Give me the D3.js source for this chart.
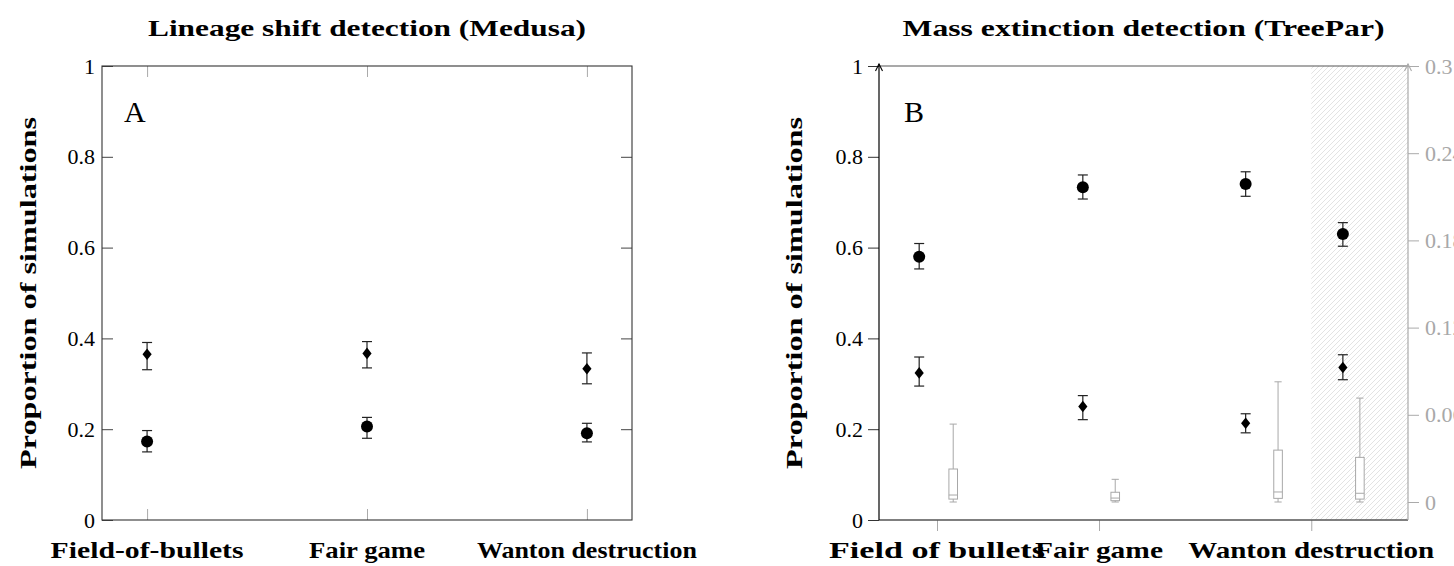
<!DOCTYPE html>
<html><head><meta charset="utf-8">
<script src="https://cdn.jsdelivr.net/npm/d3@7"></script>
<style>
body{margin:0;background:#fff}
svg{display:block}
text{font-family:"Liberation Serif","Times New Roman",serif}
</style>
</head><body>
<svg id="c" width="1454" height="566"></svg>
<script>
// ---------- DATA ----------
const titleA = "Lineage shift detection (Medusa)";
const titleB = "Mass extinction detection (TreePar)";
const yLabel = "Proportion of simulations";
const catsA = ["Field-of-bullets", "Fair game", "Wanton destruction"];
const catsB = ["Field of bullets", "Fair game", "Wanton destruction"];
const yTicks = [0, 0.2, 0.4, 0.6, 0.8, 1];
const yTickLabels = ["0", "0.2", "0.4", "0.6", "0.8", "1"];
const yTicksRight = [0, 0.06, 0.12, 0.18, 0.24, 0.3];
const yTickLabelsRight = ["0", "0.06", "0.12", "0.18", "0.24", "0.3"];

// Panel A (category positions 1..3)
const aPos = [1, 2, 3];
const aDiamond   = [0.365, 0.367, 0.333];
const aDiamondLo = [0.331, 0.335, 0.300];
const aDiamondHi = [0.391, 0.393, 0.368];
const aCircle    = [0.173, 0.206, 0.191];
const aCircleLo  = [0.150, 0.180, 0.172];
const aCircleHi  = [0.197, 0.226, 0.213];

// Panel B
const bTickPos   = [1, 2, 3.31];
const bMarkPos   = [0.89, 1.9, 2.905, 3.505];
const bBoxPos    = [1.1, 2.1, 3.105, 3.61];
const bHatchFrom = 3.31;
const bCircle    = [0.580, 0.733, 0.740, 0.630];
const bCircleLo  = [0.553, 0.707, 0.713, 0.603];
const bCircleHi  = [0.609, 0.760, 0.767, 0.655];
const bDiamond   = [0.324, 0.250, 0.213, 0.336];
const bDiamondLo = [0.295, 0.221, 0.192, 0.309];
const bDiamondHi = [0.359, 0.274, 0.234, 0.364];
// box plots on right axis
const bBoxMin = [0.0, 0.0, 0.0, 0.0];
const bBoxQ1  = [0.0020, 0.0009, 0.0025, 0.0020];
const bBoxMed = [0.0048, 0.0027, 0.0069, 0.0060];
const bBoxQ3  = [0.0227, 0.0067, 0.0357, 0.0307];
const bBoxMax = [0.0536, 0.0156, 0.0827, 0.0715];

// ---------- DRAW ----------
const svg = d3.select("#c");
const defs = svg.append("defs");
const pat = defs.append("pattern").attr("id","hatch").attr("patternUnits","userSpaceOnUse")
  .attr("width",5).attr("height",5);
pat.append("path").attr("d","M-1,1 l2,-2 M0,5 l5,-5 M4,6 l2,-2")
  .attr("stroke","#dcdcdc").attr("stroke-width",0.8);

const TICKFS = 22;
function fitText(sel, len){ sel.attr("textLength",len).attr("lengthAdjust","spacingAndGlyphs"); return sel; }

function errMarks(g, x, y, pos, val, lo, hi, shape){
  pos.forEach((p,i)=>{
    const cx = x(p);
    g.append("line").attr("x1",cx).attr("x2",cx).attr("y1",y(lo[i])).attr("y2",y(hi[i]))
      .attr("stroke","#222").attr("stroke-width",1.2);
    [lo[i],hi[i]].forEach(v=>g.append("line").attr("x1",cx-5).attr("x2",cx+5)
      .attr("y1",y(v)).attr("y2",y(v)).attr("stroke","#222").attr("stroke-width",1.2));
    const cy = y(val[i]);
    if(shape==="circle") g.append("circle").attr("cx",cx).attr("cy",cy).attr("r",6).attr("fill","#000");
    else g.append("path").attr("d",`M${cx},${cy-5.8}L${cx+4.6},${cy}L${cx},${cy+5.8}L${cx-4.6},${cy}Z`).attr("fill","#000");
  });
}

// ===== Panel A =====
{
  const L=102,R=632,T=66,B=520;
  const x = d3.scaleLinear().domain([0.795,3.205]).range([L,R]);
  const y = d3.scaleLinear().domain([0,1]).range([B,T]);
  const g = svg.append("g");

  const ax = g.append("g").attr("transform",`translate(${L},0)`)
    .call(d3.axisLeft(y).tickValues(yTicks).tickSize(-11).tickSizeOuter(0).tickPadding(7)
      .tickFormat((d,i)=>yTickLabels[i]));
  ax.select(".domain").remove();
  ax.selectAll("line").attr("stroke","#444");
  ax.selectAll("text").attr("font-size",TICKFS).attr("fill","#000").attr("font-family","Liberation Serif");

  const axr = g.append("g").attr("transform",`translate(${R},0)`)
    .call(d3.axisRight(y).tickValues(yTicks.slice(1,-1)).tickSize(-11).tickFormat(""));
  axr.select(".domain").remove(); axr.selectAll("line").attr("stroke","#444");

  const axb = g.append("g").attr("transform",`translate(0,${B})`)
    .call(d3.axisBottom(x).tickValues(aPos).tickSize(-11).tickFormat(""));
  axb.select(".domain").remove(); axb.selectAll("line").attr("stroke","#aaa");
  const axt = g.append("g").attr("transform",`translate(0,${T})`)
    .call(d3.axisTop(x).tickValues(aPos).tickSize(-11).tickFormat(""));
  axt.select(".domain").remove(); axt.selectAll("line").attr("stroke","#aaa");

  g.append("rect").attr("x",L).attr("y",T).attr("width",R-L).attr("height",B-T)
    .attr("fill","none").attr("stroke","#333").attr("stroke-width",1.1);

  errMarks(g,x,y,aPos,aDiamond,aDiamondLo,aDiamondHi,"diamond");
  errMarks(g,x,y,aPos,aCircle,aCircleLo,aCircleHi,"circle");

  const wA=[193,116,220];
  catsA.forEach((c,i)=>fitText(g.append("text").attr("x",x(aPos[i])).attr("y",558)
    .attr("text-anchor","middle").attr("font-weight","bold").attr("font-size",24).text(c), wA[i]));

  fitText(g.append("text").attr("x",(L+R)/2).attr("y",36).attr("text-anchor","middle")
    .attr("font-weight","bold").attr("font-size",23).text(titleA), 438);
  fitText(g.append("text").attr("transform",`translate(36,${(T+B)/2}) rotate(-90)`)
    .attr("text-anchor","middle").attr("font-weight","bold").attr("font-size",24).text(yLabel), 352);
  g.append("text").attr("x",124).attr("y",122).attr("font-size",30).text("A");
}

// ===== Panel B =====
{
  const L=879,R=1408,T=66,B=520;
  const x = d3.scaleLinear().domain([0.642,3.907]).range([L,R]);
  const y = d3.scaleLinear().domain([0,1]).range([B,T]);
  const yr = d3.scaleLinear().domain([0,0.3]).range([502,T]);
  const g = svg.append("g");

  g.append("rect").attr("x",x(bHatchFrom)).attr("y",T).attr("width",R-x(bHatchFrom)).attr("height",B-T)
    .attr("fill","url(#hatch)");

  bBoxPos.forEach((p,i)=>{
    const cx=x(p), c="#a8a8a8";
    g.append("line").attr("x1",cx).attr("x2",cx).attr("y1",yr(bBoxMax[i])).attr("y2",yr(bBoxMin[i]))
      .attr("stroke",c).attr("stroke-width",1);
    [bBoxMax[i],bBoxMin[i]].forEach(v=>g.append("line").attr("x1",cx-3.6).attr("x2",cx+3.6)
      .attr("y1",yr(v)).attr("y2",yr(v)).attr("stroke",c).attr("stroke-width",1));
    g.append("rect").attr("x",cx-4.3).attr("width",8.6).attr("y",yr(bBoxQ3[i]))
      .attr("height",yr(bBoxQ1[i])-yr(bBoxQ3[i])).attr("fill","#fff").attr("stroke",c).attr("stroke-width",1);
    g.append("line").attr("x1",cx-4.3).attr("x2",cx+4.3).attr("y1",yr(bBoxMed[i])).attr("y2",yr(bBoxMed[i]))
      .attr("stroke",c).attr("stroke-width",1);
  });

  const ax = g.append("g").attr("transform",`translate(${L},0)`)
    .call(d3.axisLeft(y).tickValues(yTicks).tickSize(11).tickSizeOuter(0).tickPadding(5)
      .tickFormat((d,i)=>yTickLabels[i]));
  ax.select(".domain").remove();
  ax.selectAll("line").attr("stroke","#333");
  ax.selectAll("text").attr("font-size",TICKFS).attr("fill","#000").attr("font-family","Liberation Serif");

  const axr = g.append("g").attr("transform",`translate(${R},0)`)
    .call(d3.axisRight(yr).tickValues(yTicksRight).tickSize(11).tickSizeOuter(0).tickPadding(6)
      .tickFormat((d,i)=>yTickLabelsRight[i]));
  axr.select(".domain").remove();
  axr.selectAll("line").attr("stroke","#aaa");
  axr.selectAll("text").attr("font-size",TICKFS).attr("fill","#a8a8a8").attr("font-family","Liberation Serif");

  const axb = g.append("g").attr("transform",`translate(0,${B})`)
    .call(d3.axisBottom(x).tickValues(bTickPos).tickSize(11).tickFormat(""));
  axb.select(".domain").remove(); axb.selectAll("line").attr("stroke","#aaa");

  g.append("line").attr("x1",L).attr("x2",R).attr("y1",T).attr("y2",T).attr("stroke","#555").attr("stroke-width",1.1);
  g.append("line").attr("x1",L).attr("x2",R).attr("y1",B).attr("y2",B).attr("stroke","#555").attr("stroke-width",1.3);
  g.append("line").attr("x1",R).attr("x2",R).attr("y1",B).attr("y2",T-2).attr("stroke","#aaa").attr("stroke-width",1.2);
  g.append("path").attr("d",`M${R-3.5},${T+5}L${R},${T-2}L${R+3.5},${T+5}`).attr("fill","none").attr("stroke","#aaa").attr("stroke-width",1.1);
  g.append("line").attr("x1",L).attr("x2",L).attr("y1",B).attr("y2",T-2).attr("stroke","#000").attr("stroke-width",1.2);
  g.append("path").attr("d",`M${L-3.5},${T+5}L${L},${T-2}L${L+3.5},${T+5}`).attr("fill","none").attr("stroke","#000").attr("stroke-width",1.1);

  errMarks(g,x,y,bMarkPos,bCircle,bCircleLo,bCircleHi,"circle");
  errMarks(g,x,y,bMarkPos,bDiamond,bDiamondLo,bDiamondHi,"diamond");

  const wB=[216,128,246];
  catsB.forEach((c,i)=>fitText(g.append("text").attr("x",x(bTickPos[i])).attr("y",558)
    .attr("text-anchor","middle").attr("font-weight","bold").attr("font-size",24).text(c), wB[i]));

  fitText(g.append("text").attr("x",(L+R)/2).attr("y",36).attr("text-anchor","middle")
    .attr("font-weight","bold").attr("font-size",23).text(titleB), 482);
  fitText(g.append("text").attr("transform",`translate(802,${(T+B)/2}) rotate(-90)`)
    .attr("text-anchor","middle").attr("font-weight","bold").attr("font-size",24).text(yLabel), 352);
  g.append("text").attr("x",904).attr("y",122).attr("font-size",30).text("B");
}
</script>
</body></html>
